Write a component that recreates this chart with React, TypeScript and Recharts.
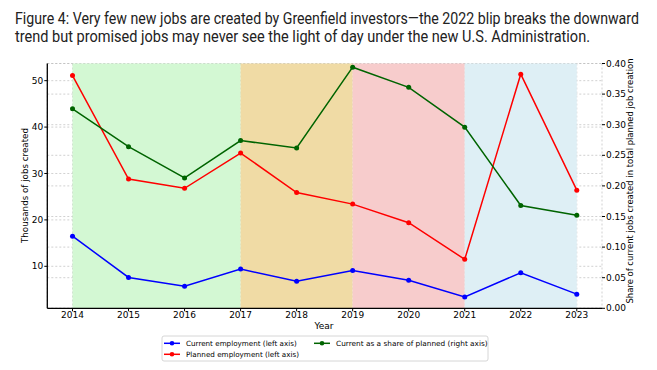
import React from "react";
import {
  LineChart,
  Line,
  XAxis,
  YAxis,
  CartesianGrid,
  ReferenceArea,
} from "recharts";

// ---------- data ----------
const years = [2014, 2015, 2016, 2017, 2018, 2019, 2020, 2021, 2022, 2023];
const currentEmployment = [16.5, 7.6, 5.7, 9.4, 6.8, 9.1, 7.0, 3.4, 8.6, 4.0];
const plannedEmployment = [51.1, 28.8, 26.8, 34.4, 25.9, 23.4, 19.4, 11.5, 51.4, 26.4];
const shareOfPlanned = [0.326, 0.264, 0.213, 0.274, 0.262, 0.394, 0.361, 0.296, 0.168, 0.152];

const leftTicks = [10, 20, 30, 40, 50];
const rightTicks = [0, 0.05, 0.1, 0.15, 0.2, 0.25, 0.3, 0.35, 0.4];

const periodStarts = [2014, 2017, 2019, 2021];
const periodEnds = [2017, 2019, 2021, 2023];
const periodColors = ["#d3f8d3", "#f0dba5", "#f7cccc", "#deeff5"];

const titleLines = [
  "Figure 4: Very few new jobs are created by Greenfield investors\u2014the 2022 blip breaks the downward",
  "trend but promised jobs may never see the light of day under the new U.S. Administration.",
];

const seriesNames = [
  "Current employment (left axis)",
  "Planned employment (left axis)",
  "Current as a share of planned (right axis)",
];
const seriesColors = ["#0000ff", "#ff0000", "#006400"];

const data = years.map((y, i) => ({
  year: y,
  current: currentEmployment[i],
  planned: plannedEmployment[i],
  share: shareOfPlanned[i],
}));

const TICK_FONT = { fontFamily: "DejaVu Sans", fontSize: 9, fill: "#000" };
const TITLE_SX = 0.86;

export default function App() {
  return (
    <div
      style={{
        position: "absolute",
        left: 0,
        top: 0,
        width: 657,
        height: 370,
        background: "#fff",
        overflow: "hidden",
      }}
    >
      <div style={{ position: "absolute", left: 0, top: 0 }}>
        <LineChart
          width={657}
          height={370}
          data={data}
          margin={{ top: 63.5, right: 0, bottom: 41.7, left: 0 }}
        >
          {periodStarts.map((s, i) => (
            <ReferenceArea
              key={"p" + i}
              yAxisId="left"
              x1={s}
              x2={periodEnds[i]}
              fill={periodColors[i]}
              fillOpacity={1}
              stroke={periodColors[i]}
              strokeOpacity={0}
              ifOverflow="visible"
            />
          ))}
          <CartesianGrid
            yAxisId="left"
            stroke="#bdbdbd"
            strokeDasharray="2 2"
            strokeWidth={0.7}
            horizontal={true}
            vertical={true}
          />
          <CartesianGrid
            yAxisId="right"
            stroke="#bdbdbd"
            strokeDasharray="2 2"
            strokeWidth={0.7}
            horizontal={true}
            vertical={false}
          />
          <XAxis
            dataKey="year"
            type="number"
            domain={[2013.55, 2023.45]}
            ticks={years}
            allowDataOverflow
            height={20}
            interval={0}
            tick={TICK_FONT}
            tickSize={3}
            tickMargin={0}
            axisLine={{ stroke: "#000", strokeWidth: 1.3 }}
            tickLine={{ stroke: "#000" }}
          />
          <YAxis
            yAxisId="left"
            orientation="left"
            type="number"
            domain={[0.95, 53.7]}
            ticks={leftTicks}
            allowDataOverflow
            width={47.3}
            tick={TICK_FONT}
            tickSize={3}
            tickMargin={1}
            axisLine={{ stroke: "#000", strokeWidth: 1.3 }}
            tickLine={{ stroke: "#000" }}
          />
          <YAxis
            yAxisId="right"
            orientation="right"
            type="number"
            domain={[0, 0.4]}
            ticks={rightTicks}
            allowDataOverflow
            width={55}
            tick={TICK_FONT}
            tickSize={3}
            tickMargin={1}
            tickFormatter={(v: number) => v.toFixed(2)}
            axisLine={false}
            tickLine={{ stroke: "#000" }}
          />
          <Line
            yAxisId="left"
            dataKey="current"
            name={seriesNames[0]}
            stroke={seriesColors[0]}
            strokeWidth={1.5}
            dot={{ r: 2.5, fill: seriesColors[0], stroke: seriesColors[0], strokeWidth: 0 }}
            activeDot={false}
            isAnimationActive={false}
          />
          <Line
            yAxisId="left"
            dataKey="planned"
            name={seriesNames[1]}
            stroke={seriesColors[1]}
            strokeWidth={1.5}
            dot={{ r: 2.5, fill: seriesColors[1], stroke: seriesColors[1], strokeWidth: 0 }}
            activeDot={false}
            isAnimationActive={false}
          />
          <Line
            yAxisId="right"
            dataKey="share"
            name={seriesNames[2]}
            stroke={seriesColors[2]}
            strokeWidth={1.5}
            dot={{ r: 2.5, fill: seriesColors[2], stroke: seriesColors[2], strokeWidth: 0 }}
            activeDot={false}
            isAnimationActive={false}
          />
        </LineChart>
      </div>
      <svg
        width={657}
        height={370}
        style={{ position: "absolute", left: 0, top: 0, pointerEvents: "none" }}
      >
        {/* title */}
        <g transform={`scale(${TITLE_SX},1)`}>
          <text
            x={15 / TITLE_SX}
            y={24.5}
            fontFamily="Roboto"
            fontSize={16}
            fill="#222"
            textLength={624 / TITLE_SX}
            lengthAdjust="spacingAndGlyphs"
          >
            {titleLines[0]}
          </text>
          <text
            x={15 / TITLE_SX}
            y={42.5}
            fontFamily="Roboto"
            fontSize={16}
            fill="#222"
            textLength={575 / TITLE_SX}
            lengthAdjust="spacingAndGlyphs"
          >
            {titleLines[1]}
          </text>
        </g>
        {/* axis titles */}
        <text
          x={324}
          y={329}
          textAnchor="middle"
          fontFamily="DejaVu Sans"
          fontSize={9}
          fill="#000"
        >
          Year
        </text>
        <text
          transform="translate(28,185.5) rotate(-90)"
          textAnchor="middle"
          fontFamily="DejaVu Sans"
          fontSize={9}
          fill="#000"
          textLength={115}
          lengthAdjust="spacingAndGlyphs"
        >
          Thousands of jobs created
        </text>
        <text
          transform="translate(633,181) rotate(-90)"
          textAnchor="middle"
          fontFamily="DejaVu Sans"
          fontSize={9}
          fill="#000"
          textLength={245}
          lengthAdjust="spacingAndGlyphs"
        >
          Share of current jobs created in total planned job creation
        </text>
        {/* legend */}
        <rect x={162} y={336} width={326} height={25} rx={2} fill="#fff" stroke="#cccccc" strokeWidth={0.8} />
        {[
          { i: 0, x: 164, y: 343.3, len: 110.7 },
          { i: 1, x: 164, y: 354.3, len: 113 },
          { i: 2, x: 314, y: 343.3, len: 151.7 },
        ].map((e) => (
          <g key={e.i}>
            <line x1={e.x} x2={e.x + 16} y1={e.y} y2={e.y} stroke={seriesColors[e.i]} strokeWidth={1.5} />
            <circle cx={e.x + 8} cy={e.y} r={2.3} fill={seriesColors[e.i]} />
            <text
              x={e.x + 22}
              y={e.y + 2.6}
              fontFamily="DejaVu Sans"
              fontSize={7.2}
              fill="#000"
              textLength={e.len}
              lengthAdjust="spacingAndGlyphs"
            >
              {seriesNames[e.i]}
            </text>
          </g>
        ))}
      </svg>
    </div>
  );
}
